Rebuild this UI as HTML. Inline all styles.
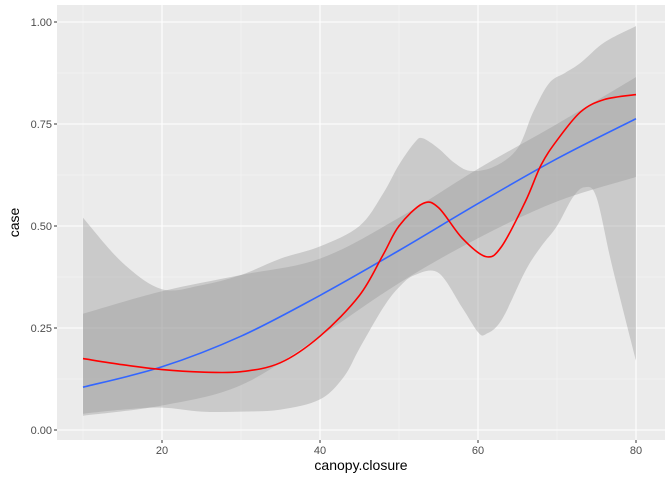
<!DOCTYPE html>
<html><head><meta charset="utf-8"><style>
body{margin:0;background:#fff;font-family:"Liberation Sans",Arial,sans-serif}
</style></head><body>
<svg id="chart" width="672" height="480" xmlns="http://www.w3.org/2000/svg"></svg>
<script>
const redX=[10,15,20,25,30,35,40,45,48,50,53,55,58,61,63,66,68,70,73,76,80];
const redY=[0.175,0.16,0.148,0.142,0.143,0.165,0.23,0.33,0.43,0.5,0.555,0.545,0.47,0.425,0.45,0.56,0.65,0.71,0.78,0.81,0.822];
const redUpX=[10,15,20,25,30,35,40,45,48,50,52,53,55,57,59,62,65,67,69,71,73,76,80];
const redUp=[0.52,0.41,0.345,0.355,0.38,0.42,0.45,0.5,0.58,0.65,0.705,0.715,0.69,0.655,0.635,0.645,0.69,0.78,0.85,0.875,0.9,0.95,0.99];
const redLoX=[10,15,20,25,30,35,40,43,45,48,50,52,55,58,60,61,63,66,68,70,72,73.5,75,77,80];
const redLo=[0.04,0.05,0.055,0.045,0.045,0.05,0.075,0.13,0.2,0.3,0.35,0.38,0.385,0.3,0.24,0.235,0.27,0.39,0.45,0.5,0.57,0.595,0.57,0.4,0.17];
const blueX=[10,20,30,40,50,60,70,80];
const blueY=[0.105,0.155,0.23,0.33,0.44,0.555,0.665,0.763];
const blueBX=[10,20,30,40,50,60,70,80];
const blueUp=[0.285,0.34,0.38,0.42,0.52,0.64,0.75,0.865];
const blueLo=[0.035,0.06,0.11,0.23,0.36,0.47,0.56,0.62];
const xTicks=[20,40,60,80];
const yTicks=[0,0.25,0.5,0.75,1];
const yLabels=["0.00","0.25","0.50","0.75","1.00"];

const L=57,R=665,T=5,B=440;
const sx=v=>83+(v-10)*7.9;
const sy=v=>430-v*408;
const svg=document.getElementById('chart');
const NS='http://www.w3.org/2000/svg';
function mk(tag,attrs,parent){const e=document.createElementNS(NS,tag);for(const k in attrs)e.setAttribute(k,attrs[k]);(parent||svg).appendChild(e);return e;}
function pts(xs,ys){return xs.map((x,i)=>[sx(x),sy(ys[i])]);}
function smooth(p,move){let d=(move?'M':'L')+p[0][0].toFixed(1)+','+p[0][1].toFixed(1);
 for(let i=0;i<p.length-1;i++){const p0=p[Math.max(0,i-1)],p1=p[i],p2=p[i+1],p3=p[Math.min(p.length-1,i+2)];
  const c1=[p1[0]+(p2[0]-p0[0])/6,p1[1]+(p2[1]-p0[1])/6],c2=[p2[0]-(p3[0]-p1[0])/6,p2[1]-(p3[1]-p1[1])/6];
  d+=`C${c1[0].toFixed(1)},${c1[1].toFixed(1)} ${c2[0].toFixed(1)},${c2[1].toFixed(1)} ${p2[0].toFixed(1)},${p2[1].toFixed(1)}`;}
 return d;}
let bg=mk('rect',{x:L,y:T,width:R-L,height:B-T,fill:'#ebebeb'});


[10,30,50,70].forEach(v=>{let l=mk('line',{x1:sx(v),x2:sx(v),y1:T,y2:B,stroke:'#f5f5f5','stroke-width':0.6});});
[0.125,0.375,0.625,0.875].forEach(v=>{let l=mk('line',{x1:L,x2:R,y1:sy(v),y2:sy(v),stroke:'#f5f5f5','stroke-width':0.6});});
xTicks.forEach(v=>{let l=mk('line',{x1:sx(v),x2:sx(v),y1:T,y2:B,stroke:'#fff','stroke-width':1.1});
 let t=mk('line',{x1:sx(v),x2:sx(v),y1:B,y2:B+3,stroke:'#333'});
 let tx=mk('text',{x:sx(v),y:B+14,'text-anchor':'middle','font-size':11,fill:'#4d4d4d'});tx.textContent=v;});
yTicks.forEach((v,i)=>{let l=mk('line',{x1:L,x2:R,y1:sy(v),y2:sy(v),stroke:'#fff','stroke-width':1.1});
 let t=mk('line',{x1:L-3,x2:L,y1:sy(v),y2:sy(v),stroke:'#333'});
 let tx=mk('text',{x:L-5,y:sy(v)+4,'text-anchor':'end','font-size':11,fill:'#4d4d4d'});tx.textContent=yLabels[i];});
let rb=mk('path',{d:smooth(pts(redUpX,redUp),true)+smooth(pts(redLoX,redLo).reverse(),false)+'Z',fill:'#999',opacity:0.4});

let bb=mk('path',{d:smooth(pts(blueBX,blueUp),true)+smooth(pts(blueBX,blueLo).reverse(),false)+'Z',fill:'#999',opacity:0.4});

let bl=mk('path',{d:smooth(pts(blueX,blueY),true),fill:'none',stroke:'#3366ff','stroke-width':1.6});

let rl=mk('path',{d:smooth(pts(redX,redY),true),fill:'none',stroke:'#ff0000','stroke-width':1.6});

let xt=mk('text',{x:(L+R)/2,y:470,'text-anchor':'middle','font-size':14,fill:'#000'});xt.textContent='canopy.closure';

let yt=mk('text',{x:0,y:0,transform:`translate(19,${(T+B)/2}) rotate(-90)`,'text-anchor':'middle','font-size':14,fill:'#000'});yt.textContent='case';

</script>
</body></html>
